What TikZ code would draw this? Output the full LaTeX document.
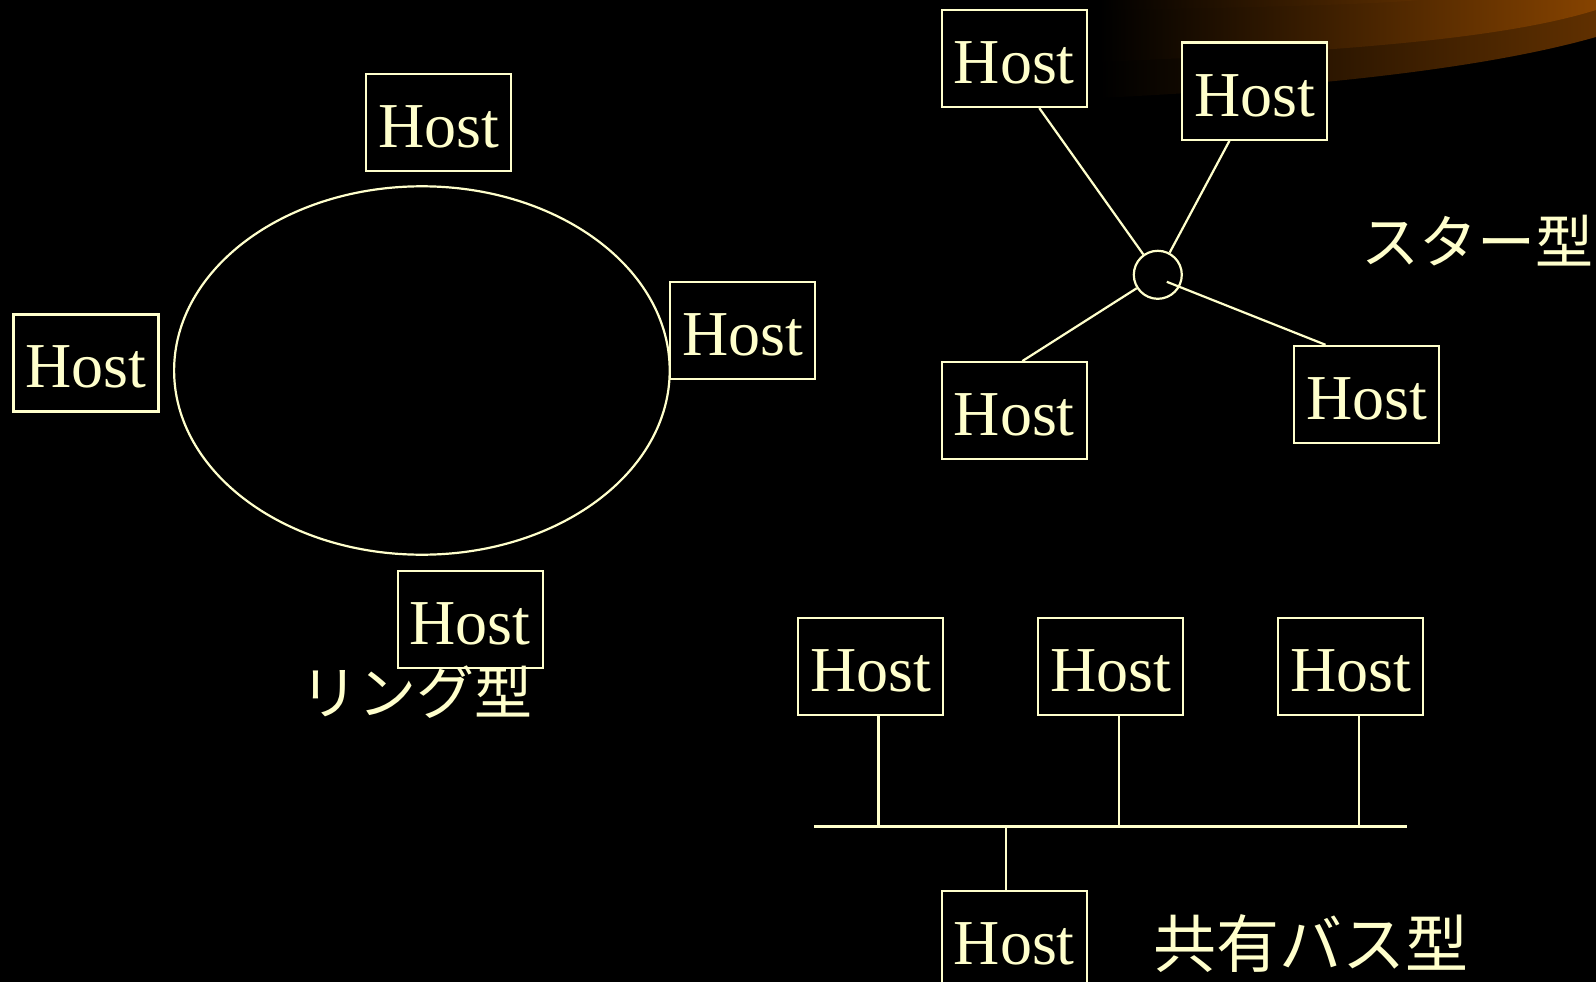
\documentclass[tikz,border=0pt]{standalone}
\usepackage{fontspec}
\setmainfont{Liberation Serif}
\newfontfamily\jpfont{Noto Sans CJK JP}
\definecolor{cream}{HTML}{FFFFCC}
\definecolor{amber}{RGB}{134,67,0}
\definecolor{amberdark}{RGB}{96,48,0}
\definecolor{amberrim}{RGB}{92,46,0}
\begin{document}
\begin{tikzpicture}[x=1pt,y=-1pt,
  host/.style={draw=cream, fill=black, line width=2.2pt, minimum width=145pt,
    minimum height=97pt, inner sep=0pt, text=cream, text height=50pt, text depth=0pt,
    font=\fontsize{64}{70}\selectfont},
  wire/.style={draw=cream, line width=2.2pt},
  kana/.style={text=cream, inner sep=0pt, font=\jpfont\fontsize{58}{64}\selectfont}]

% canvas
\fill[black] (0,0) rectangle (1596,982);
\useasboundingbox (0,0) rectangle (1596,982);

% decorative swoosh in the upper right corner
\shade[left color=black, right color=amberdark]
  (1100,0) -- (1100,98) .. controls (1300,88) and (1480,70) .. (1596,37) -- (1596,0) -- cycle;
\shade[left color=black, right color=amber]
  (1100,0) -- (1100,62) .. controls (1330,52) and (1500,40) .. (1596,10) -- (1596,0) -- cycle;
\shade[left color=black, right color=amberrim]
  (1100,0) -- (1100,10) .. controls (1250,8) and (1380,4) .. (1420,0) -- cycle;

% ---------- ring topology ----------
\draw[wire] (421.9,370.5) ellipse [x radius=247.8, y radius=184.2];
\node[host] (rtop)   at (438.7,122.6) {Host};
\node[host] (rleft)  at (86.0,362.9)  {Host};
\node[host] (rright) at (742.5,330.3) {Host};
\node[host] (rbot)   at (470.2,619.4) {Host};
\node[kana] (ringlbl) at (416.3,692.2) {リング型};

% ---------- star topology ----------
\node[draw=cream, line width=2.2pt, circle, minimum size=48pt, inner sep=0pt] (hub) at (1157.8,274.8) {};
\node[host] (stl) at (1014.3,58.5)  {Host};
\node[host] (str) at (1254.5,91.1)  {Host};
\node[host] (sbl) at (1014.3,410.7) {Host};
\node[host] (sbr) at (1366.5,394.4) {Host};
\draw[wire] ([xshift=25pt]stl.south) -- (hub);
\draw[wire] ([xshift=-25pt]str.south) -- (hub);
\draw[wire] ([xshift=8pt]sbl.north) -- (hub);
\draw[wire] ([xshift=-41pt]sbr.north) -- ([shift={(9,7)}]hub.center);
\node[kana] (starlbl) at (1477.5,240.2) {スター型};

% ---------- shared bus ----------
\node[host] (b1) at (870.8,666.7)  {Host};
\node[host] (b2) at (1110.5,666.7) {Host};
\node[host] (b3) at (1350.7,666.7) {Host};
\node[host] (b4) at (1014.3,939.1) {Host};
\coordinate (busL) at (814.3,826.5);
\coordinate (busR) at (1406.7,826.5);
\draw[wire] (busL) -- (busR);
\draw[wire] ([xshift=7.6pt]b1.south) -- ([xshift=7.6pt]b1.south |- busL);
\draw[wire] ([xshift=8.1pt]b2.south) -- ([xshift=8.1pt]b2.south |- busL);
\draw[wire] ([xshift=8.1pt]b3.south) -- ([xshift=8.1pt]b3.south |- busL);
\draw[wire] ([xshift=-8.6pt]b4.north) -- ([xshift=-8.6pt]b4.north |- busL);
\node[kana, font=\jpfont\fontsize{63}{68}\selectfont] (buslbl) at (1310.5,944) {共有バス型};

\end{tikzpicture}
\end{document}
